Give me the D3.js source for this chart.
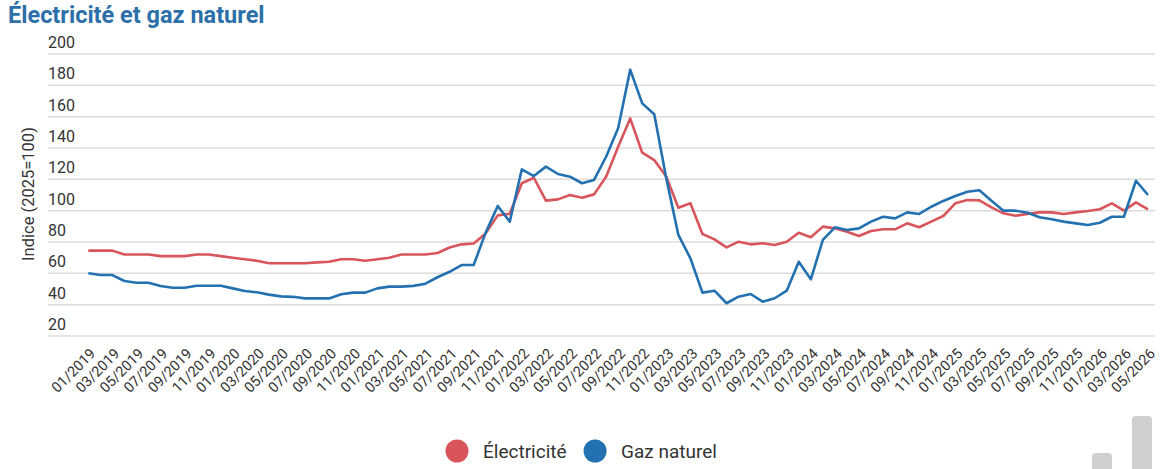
<!DOCTYPE html>
<html>
<head>
<meta charset="utf-8">
<script src="https://cdn.jsdelivr.net/npm/d3@7"></script>
<style>
    body { margin: 0; background: #fff; font-family: Roboto, sans-serif; }
    #chart { width: 1171px; height: 469px; }
</style>
</head>
<body>
<div id="chart"></div>
<script>
// months 01/2019 -> 05/2026
const firstMonth = new Date(2019, 0, 1);
const lastMonth = new Date(2026, 4, 1);
const months = d3.timeMonth.range(firstMonth, d3.timeMonth.offset(lastMonth, 1))
    .map(d3.timeFormat('%m/%Y'));

const electricite = [
    74.5, 74.5, 74.5, 72, 72, 72, 71, 71, 71, 72, 72, 71,
    70, 69, 68, 66.4, 66.4, 66.4, 66.4, 67, 67.4, 69, 69, 68,
    69, 70, 72, 72, 72, 73, 76.5, 78.5, 79, 85.5, 97, 98,
    117.5, 121, 106.4, 107.2, 110, 108.3, 110.4, 121.7, 140.8, 158.9, 137, 132.3,
    121.7, 101.9, 104.7, 85.1, 81.7, 76.6, 80.2, 78.5, 79.2, 78.1, 80.2, 85.9,
    83, 89.8, 88.7, 86.6, 83.8, 87, 88.1, 88.1, 91.9, 89.4, 93, 96.6,
    104.7, 106.8, 106.6, 102.1, 98.3, 96.8, 97.9, 98.9, 98.9, 97.9, 98.9, 99.8,
    100.9, 104.7, 100, 105.3, 100.9
];

const gazNaturel = [
    60, 58.9, 58.9, 55.1, 54, 54, 51.9, 50.8, 50.8, 52.1, 52.1, 52.1,
    50.4, 48.7, 47.9, 46.4, 45.3, 45, 44, 44, 44, 46.6, 47.7, 47.7,
    50.4, 51.5, 51.5, 52, 53.4, 57.5, 61, 65.3, 65.3, 86, 103, 93,
    126.4, 122.1, 128.1, 123.4, 121.7, 117.5, 119.6, 134.4, 152.6, 190, 168.5, 161.5,
    120.6, 84.5, 69.6, 47.7, 48.9, 40.9, 45.1, 46.8, 41.9, 44.1, 48.9, 67.4,
    56.2, 81.3, 89.4, 87.7, 88.7, 93, 96.1, 95.1, 98.9, 97.9, 102.5, 106.2,
    109.4, 112.1, 113, 106.4, 100, 100, 98.7, 95.8, 94.5, 93, 91.9, 90.9,
    92.3, 96.1, 96.1, 119.1, 110
];

const seriesNames = ['Électricité', 'Gaz naturel'];
const seriesColors = ['#d8565b', '#2471b1'];
const yTicks = [20, 40, 60, 80, 100, 120, 140, 160, 180, 200];

class LineChart {

    constructor(opts) {
        this.element = opts.element;
        this.labels = opts.labels;
        this.series = opts.series;
        this.draw();
    }

    draw() {
        this.width = 1171;
        this.height = 469;

        this.element.innerHTML = '';
        this.svg = d3.select(this.element).append('svg')
            .attr('width', this.width)
            .attr('height', this.height)
            .style('font-family', 'Roboto, sans-serif');

        this.svg.append('text')
            .attr('x', 8)
            .attr('y', 23)
            .attr('fill', '#2c6fa9')
            .attr('font-size', 23.5)
            .attr('font-weight', 700)
            .text('Électricité et gaz naturel');

        this.createScales();
        this.addAxes();
        this.addLines();
        this.addLegend();
        this.addLogo();
    }

    createScales() {
        this.xScale = d3.scalePoint()
            .domain(this.labels)
            .range([88.3, 1148]);

        this.yScale = d3.scaleLinear()
            .domain([20, 200])
            .range([336, 54]);
    }

    addAxes() {
        const grid = this.svg.append('g').attr('class', 'grid');
        grid.selectAll('line')
            .data(yTicks)
            .enter()
            .append('line')
            .attr('x1', 48)
            .attr('x2', 1155)
            .attr('y1', d => this.yScale(d))
            .attr('y2', d => this.yScale(d))
            .attr('stroke', '#dcdcdc')
            .attr('stroke-width', 1.5);

        grid.selectAll('text')
            .data(yTicks)
            .enter()
            .append('text')
            .attr('x', 48)
            .attr('y', d => this.yScale(d) - 6)
            .attr('fill', '#333')
            .attr('font-size', 16)
            .text(d => d);

        this.svg.append('text')
            .attr('transform', 'translate(34,194) rotate(-90)')
            .attr('text-anchor', 'middle')
            .attr('fill', '#333')
            .attr('font-size', 16.5)
            .text('Indice (2025=100)');

        const xAxis = d3.axisBottom(this.xScale)
            .tickValues(this.labels.filter((d, i) => i % 2 === 0))
            .tickSize(0)
            .tickPadding(0);

        const gx = this.svg.append('g')
            .attr('transform', 'translate(0,347)')
            .call(xAxis);
        gx.select('.domain').remove();
        gx.selectAll('text')
            .attr('y', 0)
            .attr('dy', '0.35em')
            .attr('text-anchor', 'end')
            .attr('transform', 'translate(4,4) rotate(-45)')
            .attr('fill', '#333')
            .attr('font-size', 14.5)
            .attr('font-family', 'Roboto, sans-serif');
    }

    addLines() {
        const line = d3.line()
            .x((d, i) => this.xScale(this.labels[i]))
            .y(d => this.yScale(d));

        this.svg.append('g')
            .selectAll('path')
            .data(this.series)
            .enter()
            .append('path')
            .attr('d', d => line(d.values))
            .attr('fill', 'none')
            .attr('stroke', d => d.color)
            .attr('stroke-width', 2.6)
            .attr('stroke-linejoin', 'round');
    }

    addLegend() {
        const legend = this.svg.append('g')
            .attr('transform', 'translate(0,451)');
        let x = 445.5;
        this.series.forEach(s => {
            const item = legend.append('g').attr('transform', `translate(${x},0)`);
            item.append('circle')
                .attr('cx', 11.5)
                .attr('cy', 0)
                .attr('r', 11.5)
                .attr('fill', s.color);
            const t = item.append('text')
                .attr('x', 37.5)
                .attr('dy', '0.35em')
                .attr('fill', '#333')
                .attr('font-size', 19)
                .text(s.name);
            x += 37.5 + t.node().getComputedTextLength() + 17;
        });
    }

    addLogo() {
        // cut-off grey logo in the bottom right corner
        const logo = this.svg.append('g').attr('fill', '#cfcfcf');
        logo.append('rect').attr('x', 1092).attr('y', 453).attr('width', 20).attr('height', 30).attr('rx', 4);
        logo.append('rect').attr('x', 1132).attr('y', 416).attr('width', 20).attr('height', 70).attr('rx', 4);
    }
}

new LineChart({
    element: document.getElementById('chart'),
    labels: months,
    series: [
        { name: seriesNames[0], color: seriesColors[0], values: electricite },
        { name: seriesNames[1], color: seriesColors[1], values: gazNaturel }
    ]
});
</script>
</body>
</html>
